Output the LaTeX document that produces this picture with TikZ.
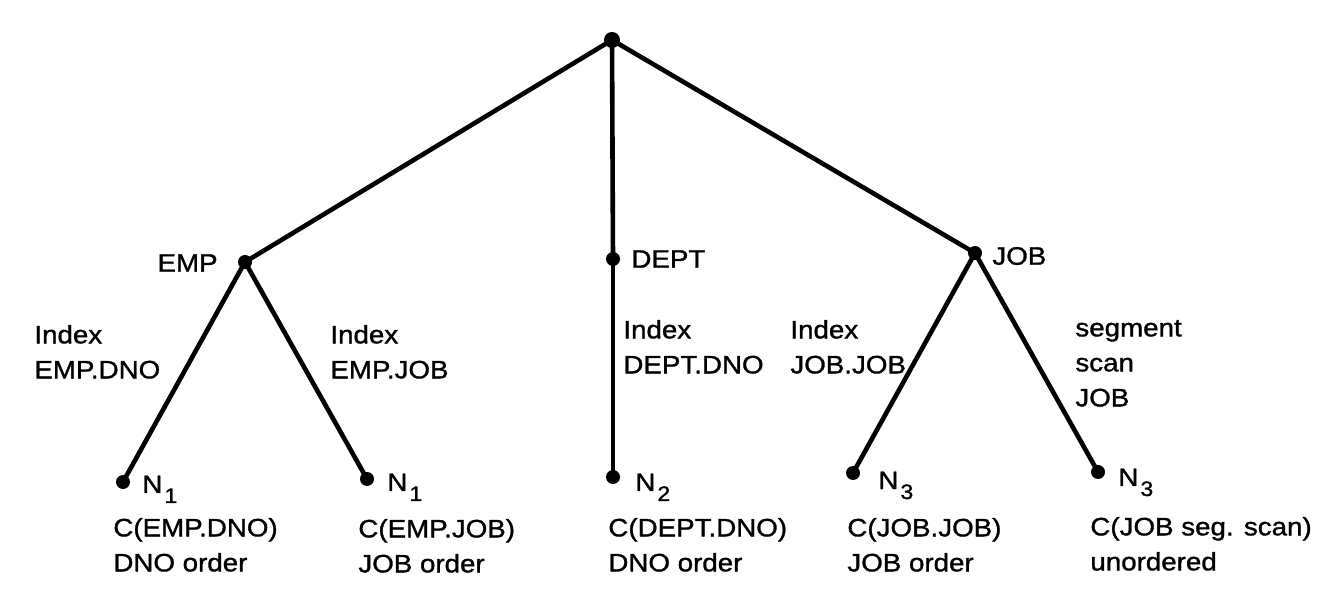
\documentclass[tikz,border=0pt]{standalone}
\usepackage{fontspec}
\setmainfont{Liberation Sans}[FakeStretch=1.1,FakeBold=1.2]
\newcommand\Nsub[1]{N\kern1pt\raisebox{-5pt}{\fontsize{10.5}{12}\selectfont #1}}
\begin{document}
\begin{tikzpicture}[x=0.5pt,y=-0.5pt,
  dot/.style={circle,fill=black,inner sep=0pt,minimum size=7pt},
  edge/.style={line width=2.3pt},
  lbl/.style={inner sep=0pt,font=\fontsize{12.6}{17.5}\selectfont,align=left}]
\useasboundingbox[fill=white] (0,0) rectangle (1344,614);
% tree nodes
\node[dot,minimum size=8pt] (root) at (612,40) {};
\node[dot] (emp) at (245,262) {};
\node[dot] (dept) at (613,259) {};
\node[dot] (job) at (975,253) {};
\node[dot] (l1) at (123,482) {};
\node[dot] (l2) at (367,479) {};
\node[dot] (l3) at (613,477) {};
\node[dot] (l4) at (853,473) {};
\node[dot] (l5) at (1098,472) {};
% edges
\draw[edge] (root.center) -- (emp.center);
\draw[edge] (root.center) -- (dept.center);
\draw[edge] (root.center) -- (job.center);
\draw[edge] (emp.center) -- (l1.center);
\draw[edge] (emp.center) -- (l2.center);
\draw[edge] (dept.center) -- (l3.center);
\draw[edge] (job.center) -- (l4.center);
\draw[edge] (job.center) -- (l5.center);
% inner node labels
\node[lbl,anchor=east] (tEMP) at (218,263) {EMP};
\node[lbl,anchor=west] (tDEPT) at (631,259) {DEPT};
\node[lbl,anchor=west] (tJOB) at (992,256) {JOB};
% edge labels
\node[lbl,anchor=south west] (e1) at (34,379) {Index\\EMP.DNO};
\node[lbl,anchor=south west] (e2) at (330,379) {Index\\EMP.JOB};
\node[lbl,anchor=south west] (e3) at (623,374) {Index\\DEPT.DNO};
\node[lbl,anchor=south west] (e4) at (790,374) {Index\\JOB.JOB};
\node[lbl,anchor=south west] (e5) at (1075,407) {segment\\scan\\JOB};
% leaf N labels
\node[lbl,anchor=base west] (n1) at (142,493) {\Nsub{1}};
\node[lbl,anchor=base west] (n2) at (387,491) {\Nsub{1}};
\node[lbl,anchor=base west] (n3) at (635,491) {\Nsub{2}};
\node[lbl,anchor=base west] (n4) at (878,489) {\Nsub{3}};
\node[lbl,anchor=base west] (n5) at (1118,486) {\Nsub{3}};
% leaf descriptions
\node[lbl,anchor=south west] (c1) at (113,572) {C(EMP.DNO)\\DNO order};
\node[lbl,anchor=south west] (c2) at (358,573) {C(EMP.JOB)\\JOB order};
\node[lbl,anchor=south west] (c3) at (608,572) {C(DEPT.DNO)\\DNO order};
\node[lbl,anchor=south west] (c4) at (847,572) {C(JOB.JOB)\\JOB order};
\node[lbl,anchor=south west] (c5) at (1090,571) {C(JOB seg. scan)\\unordered};
\end{tikzpicture}
\end{document}
